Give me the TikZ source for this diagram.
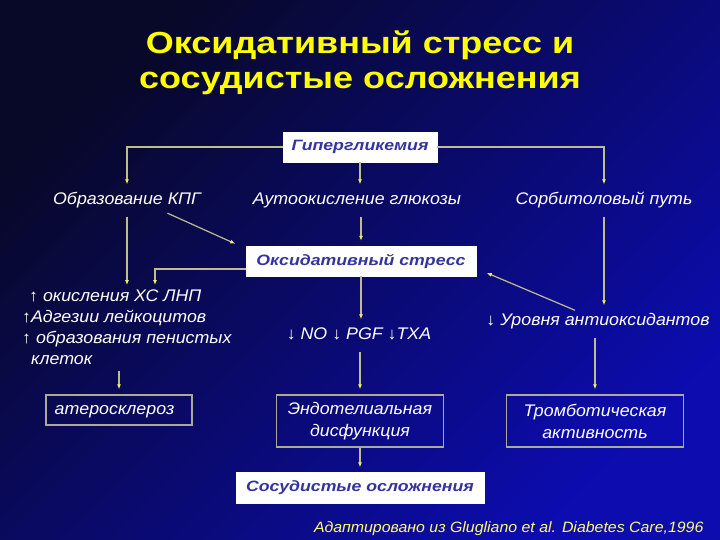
\documentclass[tikz,border=0pt]{standalone}
\usepackage{fontspec}
\setmainfont{Liberation Sans}[FakeStretch=1.06]
\newfontfamily\widebold{Liberation Sans}[FakeStretch=1.18]
\usetikzlibrary{positioning,arrows.meta,calc}

\definecolor{bgdark}{RGB}{8,8,40}
\definecolor{bgmid}{RGB}{10,10,92}
\definecolor{bglight}{RGB}{12,12,175}
\definecolor{boxblue}{RGB}{52,52,160}
\definecolor{connline}{RGB}{190,190,140}
\definecolor{tipyellow}{RGB}{240,240,90}
\definecolor{framegray}{RGB}{170,170,150}
\definecolor{titleyellow}{RGB}{255,255,0}
\definecolor{noteyellow}{RGB}{255,255,110}

\begin{document}
\begin{tikzpicture}[x=1pt,y=-1pt,
    conn/.style={draw=connline,line width=1.2pt,-{Latex[length=5pt,width=4pt,color=tipyellow]},shorten >=5pt},
    fromtext/.style={shorten <=6pt},
    lbl/.style={text=white,font=\fontsize{16.8}{20}\selectfont\itshape,text height=12.5pt,text depth=3.5pt,inner xsep=2pt,inner ysep=2.5pt},
    keybox/.style={fill=white,draw=white,text=boxblue,font=\fontsize{15}{18}\selectfont\widebold\bfseries\itshape,minimum height=30pt,inner xsep=4pt},
    outbox/.style={draw=framegray,line width=1.3pt,text=white,align=center,font=\fontsize{16.8}{22}\selectfont\itshape}]

            \useasboundingbox (0,0) rectangle (720,540);
            \shade[top color=bgdark,middle color=bgmid,bottom color=bglight,shading angle=45] (0,0) rectangle (720,540);

            \node[font=\fontsize{30.5}{35}\selectfont\widebold\bfseries,text=titleyellow,align=center] (title) at (360,63) {Оксидативный стресс и\\сосудистые осложнения};

            \node[keybox,minimum width=154pt] (hyper) at (360,147) {Гипергликемия};
            \node[lbl] (kpg) at (127,200) {Образование КПГ};
            \node[lbl] (auto) at (357,200) {Аутоокисление глюкозы};
            \node[lbl] (sorb) at (604,200) {Сорбитоловый путь};
            \node[keybox,minimum width=230pt] (oxs) at (361,261) {Оксидативный стресс};

            \node[text=white,font=\fontsize{16.8}{21}\selectfont\itshape,align=left,anchor=north west,inner sep=0pt] (ldl) at (22,290) {\hspace{7pt}↑ окисления ХС ЛНП\\↑Адгезии лейкоцитов\\↑ образования пенистых\\\hspace{9pt}клеток};
            \node[lbl] (no) at (359,335) {↓ NO ↓ PGF ↓TXA};
            \node[lbl] (antiox) at (598,321) {↓ Уровня антиоксидантов};

            \node[outbox,minimum width=146pt,minimum height=30pt,text height=12.5pt,text depth=3.5pt] (ath) at (119,410) {атеросклероз\hspace{9pt}};
            \node[outbox,minimum width=167pt,minimum height=52pt] (endo) at (360,421) {Эндотелиальная\\дисфункция};
            \node[outbox,minimum width=177pt,minimum height=52pt] (thromb) at (595,421) {Тромботическая\\активность};
            \node[keybox,minimum width=248pt,minimum height=31pt] (vasc) at (360,488) {Сосудистые осложнения};

            \node[anchor=east,text=noteyellow,font=\fontsize{15}{17}\selectfont\itshape] (src) at (707,529) {Адаптировано из Glugliano et al. Diabetes Care,1996};

            \draw[conn] (hyper.west) -| (kpg.north);
            \draw[conn] (hyper.south) -- (hyper.south |- auto.north);
            \draw[conn] (hyper.east) -| (sorb.north);

            \draw[conn,fromtext] ($(kpg.south)+(35,0)$) -- ($(oxs.north west)+(-6,0)$);
            \draw[conn,fromtext] (oxs.north |- auto.south) -- (oxs.north);
            \draw[conn] ($(oxs.west)+(0,8)$) -| ($(ldl.north west)+(133,0)$);
            \draw[conn,fromtext] (kpg.south) -- (kpg.south |- ldl.north);
            \draw[conn,fromtext] (sorb.south) -- (sorb.south |- antiox.north);
            \draw[conn] ($(antiox.north)+(-23,0)$) -- ($(oxs.east)+(6,10)$);
            \draw[conn] (oxs.south) -- (oxs.south |- no.north);

            \draw[conn,fromtext] (ldl.south -| ath.north) -- (ath.north);
            \draw[conn,fromtext] (endo.north |- no.south) -- (endo.north);
            \draw[conn,fromtext] (antiox.south -| thromb.north) -- (thromb.north);
            \draw[conn] (endo.south) -- (vasc.north);
        \end{tikzpicture}
\end{document}
